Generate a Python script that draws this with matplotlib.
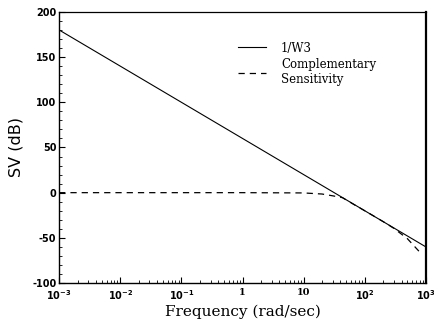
import numpy as np
import matplotlib
matplotlib.use("Agg")
import matplotlib.pyplot as plt
from matplotlib.ticker import FixedLocator, NullFormatter

# 1/W3 weighting (straight line on the Bode plot)
w3_freq = [1e-3, 1e3]
w3_db = [180, -60]

# complementary sensitivity
t_freq = [1e-3, 1e-2, 1e-1, 1, 10, 20, 30, 43, 70, 100, 200, 300, 500, 800]
t_db = [0, 0, 0, 0, -0.3, -1.5, -3.5, -5.5, -14, -20, -32, -39.5, -51, -66]

xtick_vals = [1e-3, 1e-2, 1e-1, 1, 10, 1e2, 1e3]
xtick_labels = [r'$\mathbf{10^{-3}}$', r'$\mathbf{10^{-2}}$', r'$\mathbf{10^{-1}}$',
                '1', '10', r'$\mathbf{10^{2}}$', r'$\mathbf{10^{3}}$']
ytick_vals = [-100, -50, 0, 50, 100, 150, 200]

fig = plt.figure(figsize=(4.35, 3.22), dpi=100)
ax = fig.add_axes([0.136, 0.121, 0.843, 0.842])

ax.semilogx(w3_freq, w3_db, color='black', lw=0.8, label='1/W3')
ax.semilogx(t_freq, t_db, color='black', lw=0.9, ls=(0, (5, 4)),
            label='Complementary\nSensitivity')

ax.set_xlim(1e-3, 1e3)
ax.set_ylim(-100, 200)

ax.set_xticks(xtick_vals)
ax.set_xticklabels(xtick_labels, family='DejaVu Serif', fontsize=7, fontweight='bold')
ax.xaxis.set_minor_locator(FixedLocator(
    [m * 10.0 ** e for e in range(-3, 3) for m in range(2, 10)]))
ax.xaxis.set_minor_formatter(NullFormatter())

ax.set_yticks(ytick_vals)
ax.set_yticklabels([str(v) for v in ytick_vals], family='DejaVu Sans',
                   fontsize=7, fontweight='bold')
ax.yaxis.set_minor_locator(FixedLocator(np.arange(-100, 201, 10)))

ax.tick_params(which='both', direction='in', top=False, right=False)
ax.tick_params(which='major', length=4, width=0.8, pad=2)
ax.tick_params(axis='x', which='major', pad=3.5)
ax.tick_params(which='minor', length=2, width=0.6)

for side in ['left', 'bottom']:
    ax.spines[side].set_linewidth(1.0)
ax.spines['top'].set_linewidth(0.9)
ax.spines['right'].set_linewidth(1.6)

ax.set_xlabel('Frequency (rad/sec)', family='DejaVu Serif', fontsize=11, labelpad=2)
ax.set_ylabel('SV (dB)', family='DejaVu Sans', fontsize=11.5, labelpad=6)

leg = ax.legend(loc='upper left', bbox_to_anchor=(0.46, 0.93), frameon=False,
                handlelength=2.3, handletextpad=1.3, labelspacing=0.3,
                prop={'family': 'DejaVu Serif', 'size': 8.5})

fig.savefig('out.png', dpi=100)
